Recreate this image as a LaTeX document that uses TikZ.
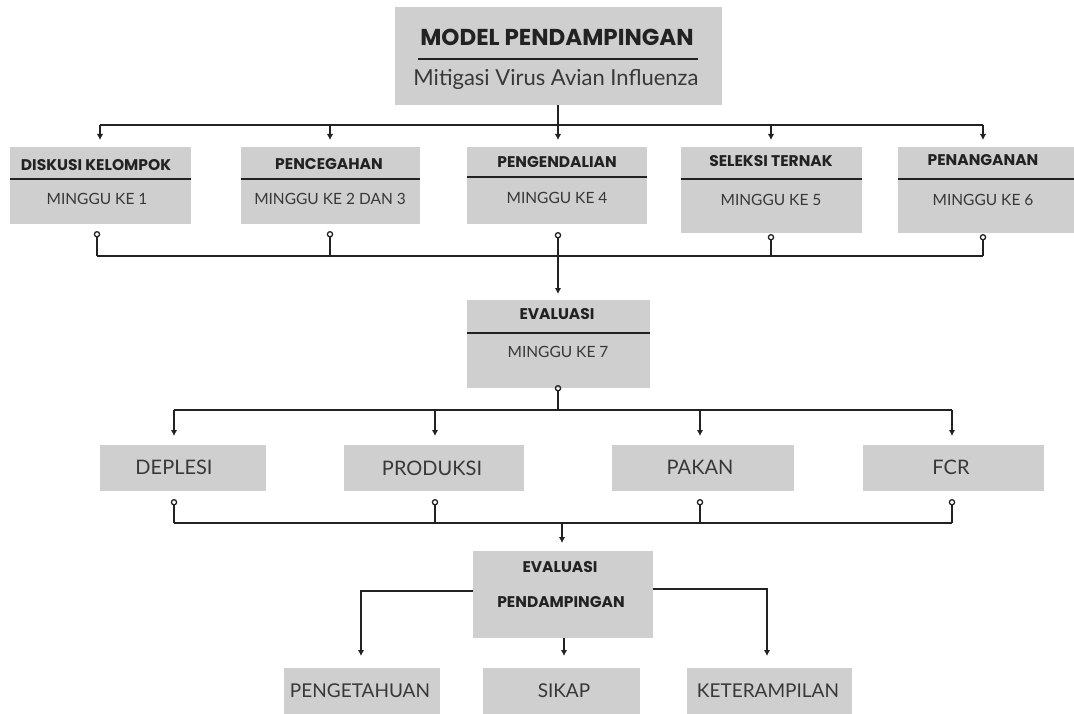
\documentclass[tikz,border=0pt]{standalone}
\usepackage{fontspec}
\usetikzlibrary{arrows.meta}
\newfontfamily\hdrfont{Poppins}
\newfontfamily\bodyfont{Lato}
\definecolor{boxgray}{HTML}{CFCFCF}
\definecolor{txt}{HTML}{222222}
\definecolor{subtxt}{HTML}{383838}
\begin{document}
\begin{tikzpicture}[x=1pt,y=-1pt,
  box/.style={fill=boxgray,draw=none,inner sep=0pt,anchor=north west},
  hdr/.style={font=\hdrfont\bfseries\fontsize{15.5}{17}\selectfont,text=txt,inner sep=0pt},
  sub/.style={font=\bodyfont\fontsize{15.5}{17}\selectfont,text=subtxt,inner sep=0pt},
  big/.style={font=\bodyfont\fontsize{20}{22}\selectfont,text=subtxt,inner sep=0pt},
  low/.style={font=\bodyfont\fontsize{19}{21}\selectfont,text=subtxt,inner sep=0pt},
  divider/.style={line width=1.3pt,txt},
  conn/.style={line width=1.7pt,txt},
  arr/.style={conn,-{Latex[length=6pt,width=6.5pt]}},
  circ/.style={conn,{Circle[open,length=6.5pt,width=6.5pt,line width=1.3pt]}-},
]
\useasboundingbox (0,0) rectangle (1074,714);
% top box
\node[box,minimum width=327pt,minimum height=98pt] (top) at (395,7) {};
\node[font=\hdrfont\bfseries\fontsize{23}{25}\selectfont,text=txt,inner sep=0pt] (toptitle) at (557,37) {MODEL PENDAMPINGAN};
\draw[divider] (418,59) -- (698,59);
\node[font=\bodyfont\fontsize{22}{24}\selectfont,text=subtxt,inner sep=0pt] (topsub) at (556,79) {Mitigasi Virus Avian Influenza};

% row 1 boxes
\node[box,minimum width=181pt,minimum height=77pt] (b1) at (10,147) {};
\node[box,minimum width=179pt,minimum height=77pt] (b2) at (241,147) {};
\node[box,minimum width=180pt,minimum height=77pt] (b3) at (467,147) {};
\node[box,minimum width=181pt,minimum height=86pt] (b4) at (681,147) {};
\node[box,minimum width=176pt,minimum height=86pt] (b5) at (898,147) {};
\draw[divider] (10,179) -- (191,179);
\draw[divider] (241,179) -- (420,179);
\draw[divider] (467,177) -- (647,177);
\draw[divider] (681,179) -- (862,179);
\draw[divider] (898,179) -- (1074,179);
\node[hdr] (h1) at (96,165) {DISKUSI KELOMPOK};
\node[hdr] (h2) at (329,164) {PENCEGAHAN};
\node[hdr] (h3) at (557,162) {PENGENDALIAN};
\node[hdr] (h4) at (771,161) {SELEKSI TERNAK};
\node[hdr] (h5) at (983,160) {PENANGANAN};
\node[sub] (s1) at (97,199) {MINGGU KE 1};
\node[sub] (s2) at (330,199) {MINGGU KE 2 DAN 3};
\node[sub] (s3) at (557,198) {MINGGU KE 4};
\node[sub] (s4) at (771,200) {MINGGU KE 5};
\node[sub] (s5) at (983,200) {MINGGU KE 6};

% top to row 1
\coordinate (tj) at (558,125);
\draw[conn] (top.south -| tj) -- (tj);
\draw[conn] (100,125) -- (983,125);
\draw[arr] (100,125) -- (100,140);
\draw[arr] (330,125) -- (330,140);
\draw[arr] (558,125) -- (558,140);
\draw[arr] (771,125) -- (771,140);
\draw[arr] (983,125) -- (983,140);

% row 1 to evaluasi
\coordinate (j1) at (97,256);
\coordinate (j5) at (983,256);
\draw[conn] (j1) -- (j5);
\draw[circ] (97,231) -- (j1);
\draw[circ] (330,231) -- (330,256);
\draw[circ] (558,232) -- (558,256);
\draw[circ] (771,234) -- (771,256);
\draw[circ] (983,234) -- (983,256);

\node[box,minimum width=183pt,minimum height=88pt] (ev) at (467,300) {};
\draw[divider] (467,333) -- (650,333);
\node[hdr] (evh) at (557,314) {EVALUASI};
\node[sub] (evs) at (558,352) {MINGGU KE 7};
\draw[arr] (558,256) -- (558,294);

% evaluasi to row 2
\draw[circ] (558,385) -- (558,410);
\draw[conn] (174,410) -- (952,410);
\draw[arr] (174,410) -- (174,436);
\draw[arr] (435,410) -- (435,436);
\draw[arr] (700,410) -- (700,436);
\draw[arr] (952,410) -- (952,436);

\node[box,minimum width=166pt,minimum height=46pt] (d1) at (100,445) {};
\node[box,minimum width=180pt,minimum height=46pt] (d2) at (344,445) {};
\node[box,minimum width=182pt,minimum height=46pt] (d3) at (612,445) {};
\node[box,minimum width=181pt,minimum height=46pt] (d4) at (863,445) {};
\node[big] (t1) at (174,467) {DEPLESI};
\node[big] (t2) at (432,468) {PRODUKSI};
\node[big] (t3) at (700,467) {PAKAN};
\node[big] (t4) at (951,467) {FCR};

% row 2 to evaluasi pendampingan
\draw[circ] (174,499) -- (174,523);
\draw[circ] (435,499) -- (435,523);
\draw[circ] (700,499) -- (700,523);
\draw[circ] (952,499) -- (952,523);
\draw[conn] (174,523) -- (952,523);
\draw[arr] (562,523) -- (562,543);

\node[box,minimum width=180pt,minimum height=87pt] (ep) at (473,551) {};
\node[hdr] (eph1) at (560,567) {EVALUASI};
\node[hdr] (eph2) at (561,602) {PENDAMPINGAN};

\node[box,minimum width=156pt,minimum height=50pt] (k1) at (284,668) {};
\node[box,minimum width=157pt,minimum height=50pt] (k2) at (483,668) {};
\node[box,minimum width=165pt,minimum height=50pt] (k3) at (687,668) {};
\node[low] (u1) at (360,691) {PENGETAHUAN};
\node[low] (u2) at (564,691) {SIKAP};
\node[low] (u3) at (768,691) {KETERAMPILAN};

\draw[arr] (ep.west |- 0,591) -| (361,656);
\draw[arr] (ep.east |- 0,589) -| (767,656);
\draw[arr] (ep.south -| 564,0) -- (564,656);
\end{tikzpicture}
\end{document}
